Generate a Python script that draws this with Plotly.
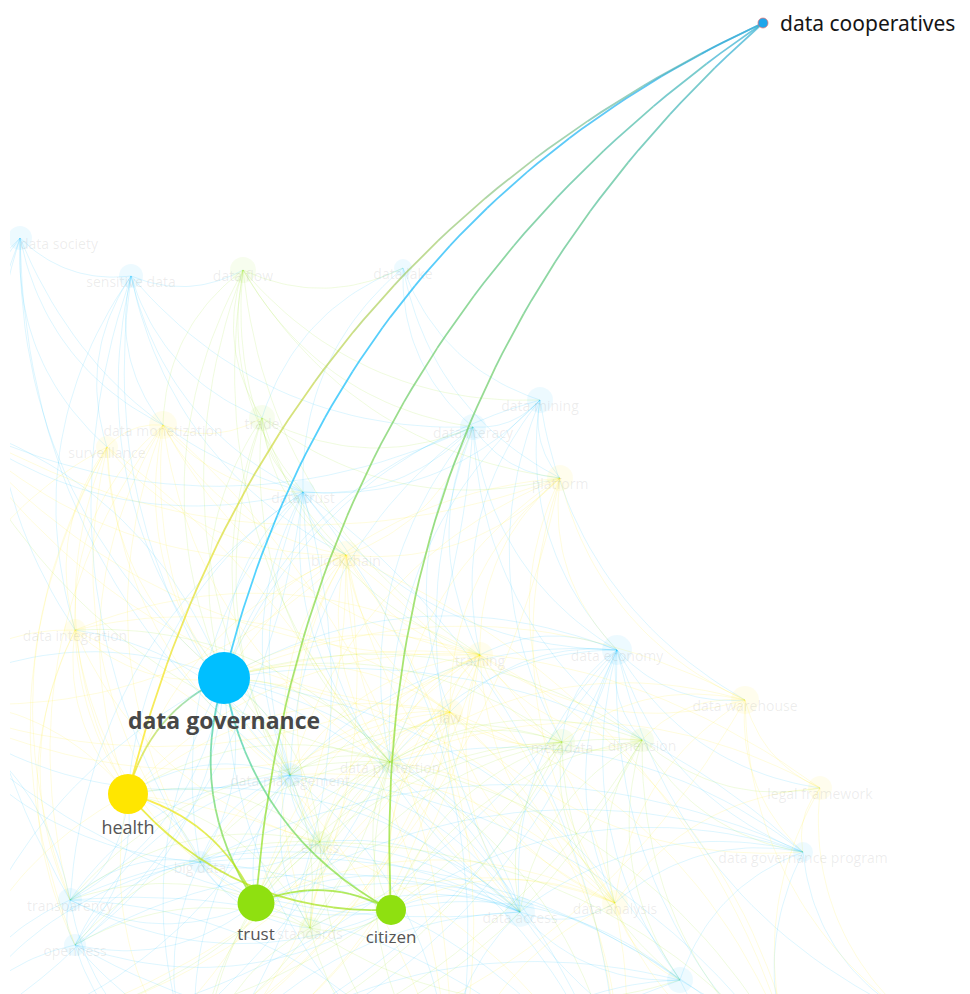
import numpy as np
import plotly.graph_objects as go

# ---------------- data ----------------
node_names = [
    "data cooperatives", "data governance", "health", "trust", "citizen",
    "data society", "sensitive data", "data flow", "data lake", "data monetization",
    "surveillance", "trade", "data trust", "blockchain", "data literacy",
    "data mining", "platform", "data economy", "training", "law",
    "data warehouse", "metadata", "dimension", "legal framework", "data governance program",
    "data access", "data analysis", "data protection", "data management", "data integration",
    "big data", "ethics", "standards", "transparency", "openness",
    "", "", "", "", "", "", "", "", "", "",
]
node_x = [763, 224, 128, 256, 391,
          20, 131, 243, 403, 163,
          107, 262, 303, 346, 473,
          540, 560, 617, 480, 450,
          745, 562, 642, 820, 803,
          520, 615, 390, 290, 75,
          200, 320, 310, 70, 75,
          680, -80, -60, 200, 450, 800, 900, -50, 620, 90]
node_y = [23, 678, 794, 903, 910,
          238, 276, 270, 268, 425,
          447, 418, 492, 555, 427,
          400, 478, 650, 655, 712,
          700, 742, 740, 788, 852,
          912, 903, 762, 775, 630,
          862, 842, 928, 900, 945,
          980, 700, 1050, 1080, 1100, 1080, 1010, 420, 1110, 1100]
node_cluster = ["c", "b", "y", "g", "g",
                "b", "b", "g", "b", "y",
                "y", "g", "b", "y", "b",
                "b", "y", "b", "y", "y",
                "y", "g", "g", "y", "b",
                "b", "y", "g", "b", "y",
                "b", "g", "g", "b", "b",
                "b", "a", "a", "a", "a", "a", "a", "a", "a", "a"]
node_weight = [10, 52, 40, 37, 30,
               24, 24, 26, 18, 28,
               22, 26, 24, 28, 26,
               26, 26, 30, 26, 26,
               28, 26, 24, 24, 20,
               30, 26, 22, 24, 22,
               22, 22, 22, 24, 22,
               26, 0, 0, 0, 0, 0, 0, 0, 0, 0]

# highlighted links (source, target)
hl_links = [(0, 1), (0, 2), (0, 3), (0, 4),
            (1, 2), (1, 3), (1, 4),
            (3, 2), (2, 4), (4, 3)]

# background (faded) co-occurrence links: source -> targets
bg_links = {
    5: [9, 10, 29, 33, 28, 12, 36, 42, 6, 1],
    6: [9, 10, 12, 28, 29, 13, 11, 1, 30, 7, 14],
    7: [11, 9, 12, 13, 14, 16, 8, 27, 28, 1, 18, 15],
    8: [14, 15, 12, 11, 16],
    9: [10, 29, 11, 12, 13, 28, 1, 2, 27, 30, 33, 18],
    10: [29, 33, 36, 28, 1, 2, 30, 13, 34],
    11: [12, 13, 14, 28, 1, 27, 31, 18, 16],
    12: [13, 14, 15, 28, 1, 27, 30, 31, 25, 33, 2, 17],
    13: [14, 16, 18, 19, 27, 28, 1, 2, 31, 32, 25, 26],
    14: [15, 16, 17, 18, 28, 1, 27, 25, 19, 22],
    15: [16, 17, 18, 27, 1, 21, 20],
    16: [17, 18, 19, 20, 21, 27, 1, 28, 26],
    17: [18, 19, 20, 21, 22, 23, 24, 25, 26, 27, 28, 1, 35, 41, 40],
    18: [19, 21, 22, 27, 28, 1, 2, 3, 4, 25, 26, 31, 32, 20, 29],
    19: [21, 22, 27, 28, 1, 2, 3, 4, 25, 26, 31, 32, 30, 24, 29],
    20: [21, 22, 23, 24, 26, 27, 1, 41],
    21: [22, 25, 26, 27, 28, 1, 3, 4, 32, 35],
    22: [23, 24, 25, 26, 27, 1, 3, 4, 35, 40],
    23: [24, 26, 41, 40, 27, 1],
    24: [25, 26, 35, 40, 41, 27, 1, 3, 4, 30],
    25: [26, 27, 28, 30, 31, 32, 33, 34, 35, 38, 39, 40, 1, 2, 3, 4],
    26: [27, 28, 32, 35, 39, 40, 1, 3, 4],
    27: [28, 29, 30, 31, 32, 33, 1, 2, 3, 4, 38, 39],
    28: [29, 30, 31, 32, 33, 34, 1, 2, 3, 4, 38],
    29: [30, 33, 34, 36, 1, 2, 3, 31],
    30: [31, 32, 33, 34, 37, 38, 1, 2, 3, 4],
    31: [32, 33, 34, 38, 39, 1, 2, 3, 4],
    32: [33, 34, 38, 39, 35, 1, 2, 4],
    33: [34, 36, 37, 38, 1, 2, 3, 4],
    34: [37, 38, 39, 1, 2, 3, 4, 35],
    35: [39, 40, 41, 1, 3, 4, 38],
    1: [36, 37, 38, 39, 42],
    2: [36, 37, 38],
    36: [28, 30, 25, 19, 18, 13],
    37: [28, 12, 18, 19, 27, 17, 21],
    38: [17, 18, 19, 13, 12, 22, 20],
    39: [12, 13, 28, 29, 33, 9, 10],
    40: [19, 18, 27, 28, 30, 13, 31],
    42: [12, 13, 14, 16, 18, 19, 27],
    43: [1, 2, 12, 13, 18, 19, 27, 28, 30, 33],
    44: [17, 18, 19, 21, 22, 27, 16, 13, 14],
}

# ---------------- styling ----------------
RGB = {"c": (30, 165, 235), "b": (0, 191, 255), "y": (255, 230, 0), "g": (143, 224, 16)}
CURV = 0.12
OFF = 8  # page margin of the html body


def curve(i, j, n=50):
    x0, y0, x1, y1 = node_x[i], node_y[i], node_x[j], node_y[j]
    dx, dy = x1 - x0, y1 - y0
    cx = (x0 + x1) / 2 - dy * 2 * CURV
    cy = (y0 + y1) / 2 + dx * 2 * CURV
    t = np.linspace(0, 1, n)
    x = (1 - t) ** 2 * x0 + 2 * t * (1 - t) * cx + t ** 2 * x1
    y = (1 - t) ** 2 * y0 + 2 * t * (1 - t) * cy + t ** 2 * y1
    return x, y


fig = go.Figure()

# background edges grouped by cluster colour
groups = {"b": ([], []), "y": ([], []), "g": ([], [])}
for s, targets in bg_links.items():
    for t in targets:
        cl = node_cluster[s]
        if cl not in groups:
            cl = node_cluster[t]
        x, y = curve(s, t, 30)
        groups[cl][0].extend(list(x) + [None])
        groups[cl][1].extend(list(y) + [None])
for cl, (xs, ys) in groups.items():
    r, g, b = RGB[cl]
    fig.add_trace(go.Scatter(x=xs, y=ys, mode="lines",
                             line=dict(color=f"rgba({r},{g},{b},0.17)", width=0.8),
                             hoverinfo="skip", showlegend=False))

# background nodes and labels
bg_idx = [k for k in range(5, len(node_names)) if node_cluster[k] != "a"]
fig.add_trace(go.Scatter(
    x=[node_x[k] for k in bg_idx], y=[node_y[k] for k in bg_idx], mode="markers",
    marker=dict(size=[node_weight[k] for k in bg_idx],
                color=[f"rgba({RGB[node_cluster[k]][0]},{RGB[node_cluster[k]][1]},{RGB[node_cluster[k]][2]},0.10)" for k in bg_idx],
                line=dict(width=0)),
    hoverinfo="skip", showlegend=False))
fig.add_trace(go.Scatter(
    x=[node_x[k] for k in bg_idx], y=[node_y[k] for k in bg_idx], mode="text",
    text=[node_names[k] for k in bg_idx],
    textposition=["bottom right" if node_x[k] < 40 else "bottom center" for k in bg_idx],
    textfont=dict(family="Open Sans", size=14, color="rgba(110,110,110,0.13)"),
    hoverinfo="skip", showlegend=False))

# highlighted edges with colour gradient
def col(k):
    return RGB[node_cluster[k]]

NSEG = 16
for s, t in hl_links:
    x, y = curve(s, t, NSEG * 4 + 1)
    c0, c1 = np.array(col(s)), np.array(col(t))
    for k in range(NSEG):
        f = ((k + 0.5) / NSEG) ** 0.6
        c = (1 - f) * c0 + f * c1
        fig.add_trace(go.Scatter(
            x=x[k * 4:k * 4 + 5], y=y[k * 4:k * 4 + 5], mode="lines",
            line=dict(color=f"rgba({int(c[0])},{int(c[1])},{int(c[2])},0.68)", width=1.8),
            hoverinfo="skip", showlegend=False))

# highlighted nodes
for k in range(5):
    r, g, b = col(k)
    fig.add_trace(go.Scatter(
        x=[node_x[k]], y=[node_y[k]], mode="markers",
        marker=dict(size=node_weight[k], color=f"rgb({r},{g},{b})",
                    line=dict(width=1 if k == 0 else 0, color="rgba(235,110,110,0.7)")),
        hoverinfo="skip", showlegend=False))

label_style = {
    1: dict(size=23, color="#474747", weight=700, family="Open Sans"),
    2: dict(size=18, color="#555555", weight=400, family="Open Sans"),
    3: dict(size=17, color="#555555", weight=400, family="Open Sans"),
    4: dict(size=17, color="#555555", weight=400, family="Open Sans"),
}
for k, st in label_style.items():
    fig.add_trace(go.Scatter(
        x=[node_x[k]], y=[node_y[k]], mode="markers+text",
        marker=dict(size=node_weight[k], color="rgba(0,0,0,0)"),
        text=[node_names[k]], textposition="bottom center", cliponaxis=False,
        textfont=dict(family=st["family"], size=st["size"], color=st["color"], weight=st["weight"]),
        hoverinfo="skip", showlegend=False))

fig.update_layout(
    width=970 - OFF, height=994 - OFF, autosize=False,
    margin=dict(l=0, r=0, t=0, b=0),
    paper_bgcolor="white", plot_bgcolor="white",
    xaxis=dict(range=[OFF, 970], visible=False, fixedrange=True),
    yaxis=dict(range=[994, OFF], visible=False, fixedrange=True),
    shapes=[dict(type="rect", xref="x", yref="y", x0=OFF, x1=10, y0=OFF, y1=994,
                 fillcolor="white", line=dict(width=0), layer="above")],
    annotations=[dict(x=node_x[0], y=node_y[0], xref="x", yref="y",
                      text=node_names[0], showarrow=False,
                      xanchor="left", yanchor="middle", xshift=15,
                      font=dict(family="Noto Sans", size=21, color="#151515"))],
)

fig.write_html("out.html")
